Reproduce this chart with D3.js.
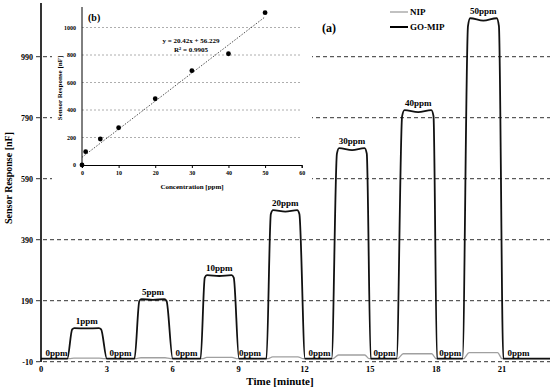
<!DOCTYPE html>
<html>
<head>
<meta charset="utf-8">
<script src="https://cdn.jsdelivr.net/npm/d3@7"></script>
<style>
  body { margin: 0; background: #fff; }
  svg { display: block; font-family: "Liberation Serif", "DejaVu Serif", serif; font-weight: bold; }
</style>
</head>
<body>
<svg id="chart"></svg>
<script>
const w = 550;
const h = 390;

// main plot: time [minute] vs sensor response [nF]
const yTicks = [-10, 190, 390, 590, 790, 990];
const xTicks = [0, 3, 6, 9, 12, 15, 18, 21];

// GO-MIP trace, [minute, nF]
const mipTrace = [
  [0, 0],
  [1.2, 0], [1.42, 96], [1.52, 100], [2.08, 99], [2.64, 100], [2.74, 96], [3.0, 0],
  [4.26, 0], [4.48, 189], [4.58, 195], [5.1, 193], [5.62, 195], [5.72, 189], [6.0, 0],
  [7.27, 0], [7.46, 266], [7.56, 274], [8.12, 271], [8.68, 274], [8.78, 266], [9.02, 0],
  [10.27, 0], [10.47, 474], [10.57, 487], [11.13, 482], [11.67, 487], [11.77, 474], [12.03, 0],
  [13.24, 0], [13.48, 672], [13.58, 690], [14.17, 684], [14.74, 690], [14.84, 672], [15.02, 0],
  [16.2, 0], [16.45, 795], [16.56, 815], [17.18, 808], [17.78, 815], [17.88, 795], [18.04, 0],
  [19.2, 0], [19.45, 1090], [19.55, 1116], [20.15, 1108], [20.76, 1116], [20.86, 1090], [21.06, 0],
  [23.3, 0]
];

// NIP trace, [minute, nF]
const nipTrace = [
  [0, 0],
  [1.3, 0], [1.5, 2], [2.65, 2], [2.9, 0],
  [4.35, 0], [4.55, 3], [5.65, 3], [5.9, 0],
  [7.35, 0], [7.55, 4], [8.7, 4], [8.95, 0],
  [10.35, 0], [10.55, 6], [11.7, 6], [11.95, 0],
  [13.3, 0], [13.55, 12], [14.75, 12], [14.95, 0],
  [16.25, 0], [16.5, 16], [17.8, 16], [18.0, 0],
  [19.25, 0], [19.5, 20], [20.8, 20], [21.0, 0],
  [23.3, 0]
];

const peakLabels = ["1ppm", "5ppm", "10ppm", "20ppm", "30ppm", "40ppm", "50ppm"];
const peakTimes = [2.08, 5.1, 8.12, 11.13, 14.17, 17.18, 20.15];
const peakValues = [100, 195, 274, 487, 690, 815, 1116];
const zeroTimes = [0.71, 3.62, 6.63, 9.52, 12.69, 15.65, 18.64, 21.75];

// inset (b): concentration [ppm] vs sensor response [nF]
const concValues = [0, 1, 5, 10, 20, 30, 40, 50];
const respValues = [0, 97, 189, 271, 482, 686, 809, 1108];
const insetXTicks = [0, 10, 20, 30, 40, 50, 60];
const insetYTicks = [0, 200, 400, 600, 800, 1000];
const fitSlope = 20.42;
const fitIntercept = 56.229;

const svg = d3.select('#chart')
    .attr("width", w)
    .attr("height", h)

const x = d3.scaleLinear().domain([0, 21]).range([41, 502]);
const y = d3.scaleLinear().domain([-10, 990]).range([361.7, 56.7]);

// gridlines
svg.append("g")
  .selectAll("line")
  .data(yTicks)
  .join("line")
  .attr("x1", 36)
  .attr("x2", w)
  .attr("y1", d => y(d))
  .attr("y2", d => y(d))
  .attr("stroke", "#333")
  .attr("stroke-width", 1)
  .attr("stroke-dasharray", "4,3");

// y tick labels
svg.append("g")
  .selectAll("text")
  .data(yTicks)
  .join("text")
  .attr("x", 33)
  .attr("y", d => y(d) + 3)
  .attr("text-anchor", "end")
  .attr("font-size", 8)
  .text(d => d);

// x tick labels
svg.append("g")
  .selectAll("text")
  .data(xTicks)
  .join("text")
  .attr("x", d => x(d))
  .attr("y", 372)
  .attr("text-anchor", "middle")
  .attr("font-size", 8.5)
  .text(d => d);

// traces
const line = d3.line()
  .x(d => x(d[0]))
  .y(d => y(d[1]))
  .curve(d3.curveMonotoneX);

svg.append("path")
  .datum(nipTrace)
  .attr("d", line)
  .attr("fill", "none")
  .attr("stroke", "#a0a0a0")
  .attr("stroke-width", 1.3);

svg.append("path")
  .datum(mipTrace)
  .attr("d", line)
  .attr("fill", "none")
  .attr("stroke", "#111")
  .attr("stroke-width", 1.8);

// y axis line
svg.append("line")
  .attr("x1", 41).attr("x2", 41)
  .attr("y1", 3).attr("y2", 362)
  .attr("stroke", "#000")
  .attr("stroke-width", 1.6);

// concentration labels
svg.append("g")
  .selectAll("text")
  .data(peakLabels)
  .join("text")
  .attr("x", (d, i) => x(peakTimes[i]))
  .attr("y", (d, i) => y(peakValues[i]) - 4)
  .attr("text-anchor", "middle")
  .attr("font-size", 9)
  .text(d => d);

svg.append("g")
  .selectAll("text")
  .data(zeroTimes)
  .join("text")
  .attr("x", d => x(d))
  .attr("y", y(0) - 3)
  .attr("text-anchor", "middle")
  .attr("font-size", 9)
  .text("0ppm");

// axis titles
svg.append("text")
  .attr("transform", "translate(12,178) rotate(-90)")
  .attr("text-anchor", "middle")
  .attr("font-size", 10)
  .text("Sensor Response [nF]");

svg.append("text")
  .attr("x", 280)
  .attr("y", 385)
  .attr("text-anchor", "middle")
  .attr("font-size", 11)
  .text("Time [minute]");

svg.append("text")
  .attr("x", 322)
  .attr("y", 32)
  .attr("font-size", 12)
  .text("(a)");

// legend
const legend = svg.append("g");
legend.append("line")
  .attr("x1", 390).attr("x2", 408).attr("y1", 12).attr("y2", 12)
  .attr("stroke", "#a0a0a0").attr("stroke-width", 1.3);
legend.append("text")
  .attr("x", 410).attr("y", 15).attr("font-size", 9).text("NIP");
legend.append("line")
  .attr("x1", 390).attr("x2", 408).attr("y1", 27).attr("y2", 27)
  .attr("stroke", "#000").attr("stroke-width", 2);
legend.append("text")
  .attr("x", 410).attr("y", 30).attr("font-size", 9).text("GO-MIP");

// inset (b)
const inset = svg.append("g");
inset.append("rect")
  .attr("x", 52).attr("y", 0)
  .attr("width", 260).attr("height", 196)
  .attr("fill", "#fff");

const ix = d3.scaleLinear().domain([0, 60]).range([82, 301.7]);
const iy = d3.scaleLinear().domain([0, 1000]).range([165, 27.5]);

inset.append("g")
  .selectAll("line")
  .data(insetYTicks.slice(1))
  .join("line")
  .attr("x1", ix(0)).attr("x2", ix(60))
  .attr("y1", d => iy(d)).attr("y2", d => iy(d))
  .attr("stroke", "#999")
  .attr("stroke-width", 0.8)
  .attr("stroke-dasharray", "2,2");

const ixAxis = d3.axisBottom(ix).tickValues(insetXTicks).tickSize(3).tickPadding(3);
const iyAxis = d3.axisLeft(iy).tickValues(insetYTicks).tickSize(0).tickPadding(6)
  .tickFormat(d3.format("d"));

inset.append("g")
  .attr("transform", "translate(0," + iy(0) + ")")
  .call(ixAxis)
  .call(g => g.selectAll("text").attr("font-size", 6).attr("font-family", "Liberation Serif").attr("font-weight", "bold"))
  .call(g => g.select(".domain").attr("stroke-width", 1));

inset.append("g")
  .attr("transform", "translate(" + ix(0) + ",0)")
  .call(iyAxis)
  .call(g => g.selectAll("text").attr("font-size", 6).attr("font-family", "Liberation Serif").attr("font-weight", "bold"))
  .call(g => g.select(".domain").attr("d", "M0," + (iy(0)) + "V7"));

// trendline
inset.append("line")
  .attr("x1", ix(0)).attr("y1", iy(fitIntercept))
  .attr("x2", ix(50)).attr("y2", iy(fitSlope * 50 + fitIntercept))
  .attr("stroke", "#222")
  .attr("stroke-width", 0.8)
  .attr("stroke-dasharray", "1.5,1.5");

inset.append("g")
  .selectAll("circle")
  .data(concValues)
  .join("circle")
  .attr("cx", d => ix(d))
  .attr("cy", (d, i) => iy(respValues[i]))
  .attr("r", 2.4)
  .attr("fill", "#000");

inset.append("text")
  .attr("x", 88).attr("y", 21)
  .attr("font-size", 10)
  .text("(b)");

inset.append("text")
  .attr("x", 191).attr("y", 43)
  .attr("text-anchor", "middle")
  .attr("font-size", 7)
  .text("y = 20.42x + 56.229");

inset.append("text")
  .attr("x", 191).attr("y", 52)
  .attr("text-anchor", "middle")
  .attr("font-size", 7)
  .text("R² = 0.9905");

inset.append("text")
  .attr("x", 192).attr("y", 189)
  .attr("text-anchor", "middle")
  .attr("font-size", 7)
  .text("Concentration  [ppm]");

inset.append("text")
  .attr("transform", "translate(62,88) rotate(-90)")
  .attr("text-anchor", "middle")
  .attr("font-size", 7)
  .text("Sensor Response  [nF]");
</script>
</body>
</html>
